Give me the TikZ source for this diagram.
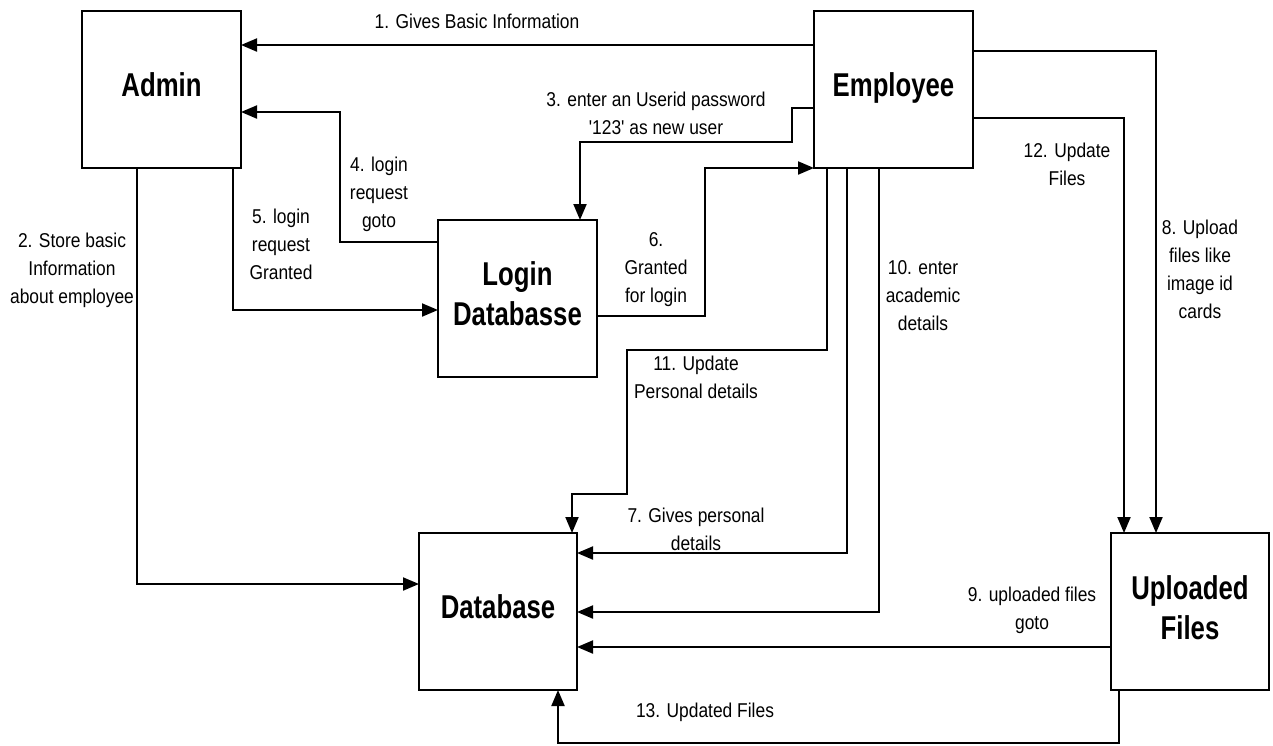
\documentclass[tikz,border=0pt]{standalone}
\usepackage{fontspec}
\setmainfont{Liberation Sans}[FakeStretch=0.87]
\newfontfamily\lblfont{Liberation Sans}[FakeStretch=0.87]
\newfontfamily\titlefont{Liberation Sans}[FakeStretch=0.78]
\usetikzlibrary{arrows.meta}
\begin{document}
\begin{tikzpicture}[x=1pt,y=-1pt,
  box/.style={draw, line width=2pt, inner sep=0pt, outer sep=0pt, minimum width=159pt, minimum height=157pt},
  title/.style={font=\titlefont\bfseries\fontsize{33}{40}\selectfont, align=center, inner sep=0pt},
  arr/.style={line width=2pt, -{Triangle[length=16pt,width=13pt]}},
  lbl/.style={font=\lblfont\fontsize{20}{28}\selectfont, align=center, inner sep=0pt}]
\useasboundingbox[fill=white] (0,0) rectangle (1273,745);

% boxes
\node[box] (admin) at (161.5,89.5) {};
\node[box] (emp) at (893.5,89.5) {};
\node[box] (login) at (517.5,298.5) {};
\node[box, minimum width=158pt] (db) at (498,611.5) {};
\node[box, minimum width=158pt] (up) at (1190,611.5) {};

\node[title] (admint) at ([yshift=4.5pt]admin.center) {Admin};
\node[title] (empt) at ([yshift=2pt]emp.center) {Employee};
\node[title] (logint) at ([yshift=5pt]login.center) {Login\\Databasse};
\node[title] (dbt) at ([yshift=4.5pt]db.center) {Database};
\node[title] (upt) at ([yshift=4pt]up.center) {Uploaded\\Files};

% helper coordinates
\coordinate (y1) at (0,45);
\coordinate (c2) at (137,584);
\coordinate (y3) at (792,108);
\coordinate (c3) at (580,142);
\coordinate (c4) at (340,242);
\coordinate (c4b) at (340,112);
\coordinate (c5) at (233,310);
\coordinate (c6) at (705,316);
\coordinate (c6b) at (705,168);
\coordinate (c7) at (847,553);
\coordinate (c8) at (1156,51);
\coordinate (c9) at (0,647);
\coordinate (c10) at (879,612);
\coordinate (c11a) at (827,350);
\coordinate (c11b) at (627,494);
\coordinate (c11c) at (572,494);
\coordinate (c12) at (1124,118);
\coordinate (c13a) at (1119,743);
\coordinate (c13b) at (558,743);

% connectors
\draw[arr] (emp.west|-y1) -- (admin.east|-y1);
\draw[arr] (admin.south-|c2) -- (c2) -- (db.west|-c2);
\draw[arr] (emp.west|-y3) -- (y3) -- (y3|-c3) -- (c3) -- (login.north-|c3);
\draw[arr] (login.west|-c4) -- (c4) -- (c4b) -- (admin.east|-c4b);
\draw[arr] (admin.south-|c5) -- (c5) -- (login.west|-c5);
\draw[arr] (login.east|-c6) -- (c6) -- (c6b) -- (emp.south west);
\draw[arr] (emp.south-|c7) -- (c7) -- (db.east|-c7);
\draw[arr] (emp.east|-c8) -- (c8) -- (up.north-|c8);
\draw[arr] (up.west|-c9) -- (db.east|-c9);
\draw[arr] (emp.south-|c10) -- (c10) -- (db.east|-c10);
\draw[arr] (emp.south-|c11a) -- (c11a) -- (c11b|-c11a) -- (c11b) -- (c11c) -- (db.north-|c11c);
\draw[arr] (emp.east|-c12) -- (c12) -- (up.north-|c12);
\draw[arr] (up.south-|c13a) -- (c13a) -- (c13b) -- (db.south-|c13b);

% labels
\node[lbl] (l1) at (477,21) {1. Gives Basic Information};
\node[lbl] (l2) at (72,270) {2. Store basic\\Information\\about employee};
\node[lbl] (l3) at (656,113) {3. enter an Userid password\\'123' as new user};
\node[lbl] (l4) at (379,194) {4. login\\request\\goto};
\node[lbl] (l5) at (281,244) {5. login\\request\\Granted};
\node[lbl] (l6) at (656,270) {6.\\Granted\\for login};
\node[lbl] (l7) at (696,529) {7. Gives personal\\details};
\node[lbl] (l8) at (1200,269) {8. Upload\\files like\\image id\\cards};
\node[lbl] (l9) at (1032,610) {9. uploaded files\\goto};
\node[lbl] (l10) at (923,296) {10. enter\\academic\\details};
\node[lbl] (l11) at (696,377) {11. Update\\Personal details};
\node[lbl] (l12) at (1067,164) {12. Update\\Files};
\node[lbl] (l13) at (705,712) {13. Updated Files};
\end{tikzpicture}
\end{document}
